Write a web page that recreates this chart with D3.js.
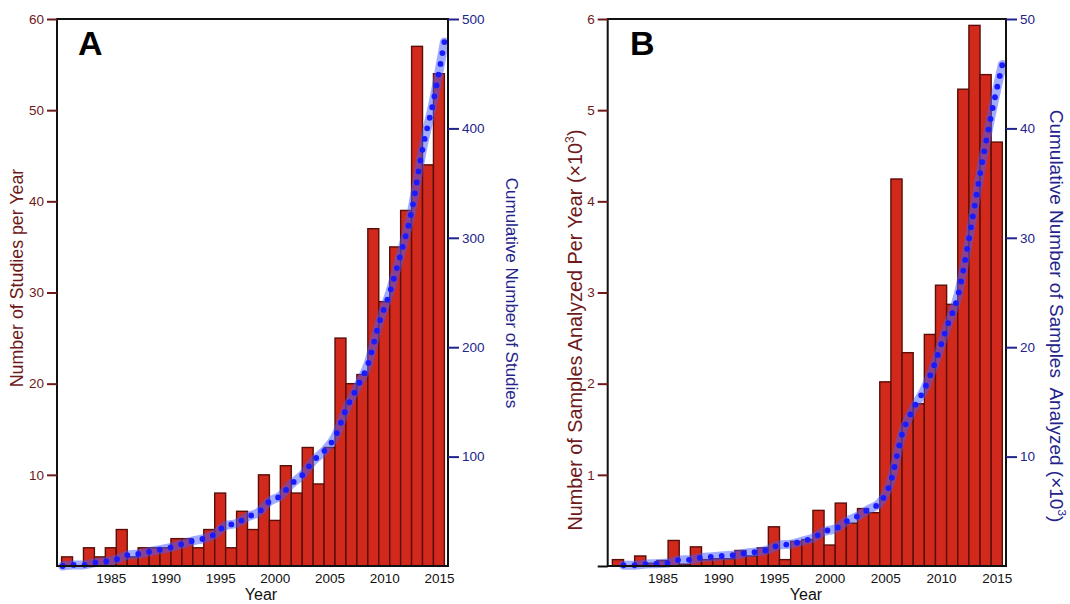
<!DOCTYPE html>
<html>
<head>
<meta charset="utf-8">
<script src="https://cdn.jsdelivr.net/npm/d3@7"></script>
<style>
  body { margin: 0; background: #fff; }
  svg text { font-family: "Liberation Sans", Arial, Helvetica, sans-serif; }
</style>
</head>
<body>
<svg id="chart" width="1070" height="604"></svg>
<script>
// values
const years = [1981, 1982, 1983, 1984, 1985, 1986, 1987, 1988, 1989, 1990,
  1991, 1992, 1993, 1994, 1995, 1996, 1997, 1998, 1999, 2000,
  2001, 2002, 2003, 2004, 2005, 2006, 2007, 2008, 2009, 2010,
  2011, 2012, 2013, 2014, 2015];
const studiesPerYear = [1, 0, 2, 1, 2, 4, 1, 2, 2, 2,
  3, 3, 2, 4, 8, 2, 6, 4, 10, 5,
  11, 8, 13, 9, 13, 25, 20, 21, 37, 29,
  35, 39, 57, 44, 54];
// thousands of samples
const samplesPerYear = [0.07, 0, 0.11, 0.03, 0.06, 0.28, 0.02, 0.21, 0.07, 0.08,
  0.08, 0.17, 0.11, 0.2, 0.43, 0.07, 0.27, 0.29, 0.61, 0.23,
  0.69, 0.47, 0.63, 0.585, 2.02, 4.245, 2.34, 1.78, 2.54, 3.08,
  2.87, 5.23, 5.93, 5.39, 4.65];
const yearTicks = [1985, 1990, 1995, 2000, 2005, 2010, 2015];
const studyTicks = [10, 20, 30, 40, 50, 60];
const studyCumTicks = [100, 200, 300, 400, 500];
const sampleTicks = [0, 1, 2, 3, 4, 5, 6];
const sampleCumTicks = [10, 20, 30, 40, 50];

const BAR = "#d2291d", BAR_EDGE = "#5a0e08";
const LEFT_COL = "#6e1a1a", RIGHT_COL = "#23238c";
const plotTop = 19, plotBottom = 566;

const panels = [
  {
    letter: "A", values: studiesPerYear, yMax: 60, cumMax: 500,
    leftTicks: studyTicks, rightTicks: studyCumTicks,
    x0: 57, x1: 448, startZero: true,
    leftLabel: ["Number of Studies per Year"], leftX: 17, leftY: 278, leftSize: 17.8,
    rightLabel: ["Cumulative Number of Studies"], rightX: 512, rightY: 293, rightSize: 17,
    yearX: 261, letterX: 78
  },
  {
    letter: "B", values: samplesPerYear, yMax: 6, cumMax: 50,
    leftTicks: sampleTicks, rightTicks: sampleCumTicks,
    x0: 607.7, x1: 1006, startZero: false,
    leftLabel: ["Number of Samples Analyzed Per Year (\u00d710", "3", ")"], leftX: 575, leftY: 330, leftSize: 19.8,
    rightLabel: ["Cumulative Number of Samples\u00a0 Analyzed (\u00d710", "3", ")"], rightX: 1057, rightY: 316, rightSize: 19,
    yearX: 806, letterX: 630
  }
];

const svg = d3.select("#chart");

function addLabel(g, parts, size, color) {
  g.append("tspan").text(parts[0]);
  if (parts.length > 1) {
    g.append("tspan").attr("dy", -size * 0.4).attr("font-size", size * 0.62).text(parts[1]);
    g.append("tspan").attr("dy", size * 0.4).text(parts[2]);
  }
  g.attr("fill", color).attr("font-size", size);
}

panels.forEach(p => {
  const g = svg.append("g");
  const x = d3.scaleLinear().domain([1980.08, 2015.83]).range([p.x0, p.x1]);
  const y = d3.scaleLinear().domain([0, p.yMax]).range([plotBottom, plotTop]);
  const yc = d3.scaleLinear().domain([0, p.cumMax]).range([plotBottom, plotTop]);
  const bw = x(1) - x(0);

  // bars
  g.selectAll("rect.bar")
    .data(years.map((yr, i) => ({ yr, v: p.values[i] })).filter(d => d.v > 0))
    .join("rect")
    .attr("class", "bar")
    .attr("x", d => x(d.yr - 0.5))
    .attr("width", bw)
    .attr("y", d => y(d.v))
    .attr("height", d => y(0) - y(d.v))
    .attr("fill", BAR)
    .attr("stroke", BAR_EDGE)
    .attr("stroke-width", 1.4);

  // cumulative curve
  const cum = Array.from(d3.cumsum(p.values));
  let pts = years.map((yr, i) => [yr + 0.5, cum[i]]);
  if (p.startZero) pts = [[years[0] - 0.4, 0]].concat(pts);
  const line = d3.line().x(d => x(d[0])).y(d => yc(d[1])).curve(d3.curveMonotoneX);
  g.append("path").attr("d", line(pts))
    .attr("fill", "none")
    .attr("stroke", "rgb(70,90,255)")
    .attr("stroke-opacity", 0.5)
    .attr("stroke-width", 9)
    .attr("stroke-linecap", "round");
  g.append("path").attr("d", line(pts))
    .attr("fill", "none")
    .attr("stroke", "#1a1aff")
    .attr("stroke-width", 5.8)
    .attr("stroke-linecap", "round")
    .attr("stroke-dasharray", "0,11");

  // frame
  g.append("rect")
    .attr("x", p.x0).attr("y", plotTop)
    .attr("width", p.x1 - p.x0).attr("height", plotBottom - plotTop)
    .attr("fill", "none").attr("stroke", "#111").attr("stroke-width", 2);

  // left axis
  const la = g.append("g").attr("transform", `translate(${p.x0},0)`)
    .call(d3.axisLeft(y).tickValues(p.leftTicks).tickSize(10).tickPadding(3)
      .tickFormat(d => d === 0 ? "" : d));
  la.select(".domain").remove();
  la.selectAll(".tick line").attr("stroke", d => d === 0 ? "#111" : LEFT_COL).attr("stroke-width", 2);
  la.selectAll(".tick text").attr("fill", LEFT_COL).attr("font-size", 13.5)
    .attr("font-family", "Liberation Sans, Arial, sans-serif");

  // right axis
  const ra = g.append("g").attr("transform", `translate(${p.x1},0)`)
    .call(d3.axisRight(yc).tickValues(p.rightTicks).tickSize(11).tickPadding(3));
  ra.select(".domain").remove();
  ra.selectAll(".tick line").attr("stroke", RIGHT_COL).attr("stroke-width", 2);
  ra.selectAll(".tick text").attr("fill", RIGHT_COL).attr("font-size", 13.5)
    .attr("font-family", "Liberation Sans, Arial, sans-serif");

  // bottom axis
  const ba = g.append("g").attr("transform", `translate(0,${plotBottom})`)
    .call(d3.axisBottom(x).tickValues(yearTicks).tickSize(0).tickPadding(7).tickFormat(d3.format("d")));
  ba.select(".domain").remove();
  ba.selectAll(".tick text").attr("fill", "#111").attr("font-size", 13.5)
    .attr("font-family", "Liberation Sans, Arial, sans-serif");

  g.append("text").attr("x", p.yearX).attr("y", 600)
    .attr("text-anchor", "middle").attr("font-size", 16).attr("fill", "#111")
    .text("Year");

  // axis titles
  const lt = g.append("text")
    .attr("transform", `translate(${p.leftX},${p.leftY}) rotate(-90)`)
    .attr("text-anchor", "middle").attr("dy", "0.35em");
  addLabel(lt, p.leftLabel, p.leftSize, LEFT_COL);
  const rt = g.append("text")
    .attr("transform", `translate(${p.rightX},${p.rightY}) rotate(90)`)
    .attr("text-anchor", "middle").attr("dy", "0.35em");
  addLabel(rt, p.rightLabel, p.rightSize, RIGHT_COL);

  // panel letter
  g.append("text").attr("x", p.letterX).attr("y", 55)
    .attr("font-size", 34).attr("font-weight", "bold").attr("fill", "#000")
    .text(p.letter);
});
</script>
</body>
</html>
